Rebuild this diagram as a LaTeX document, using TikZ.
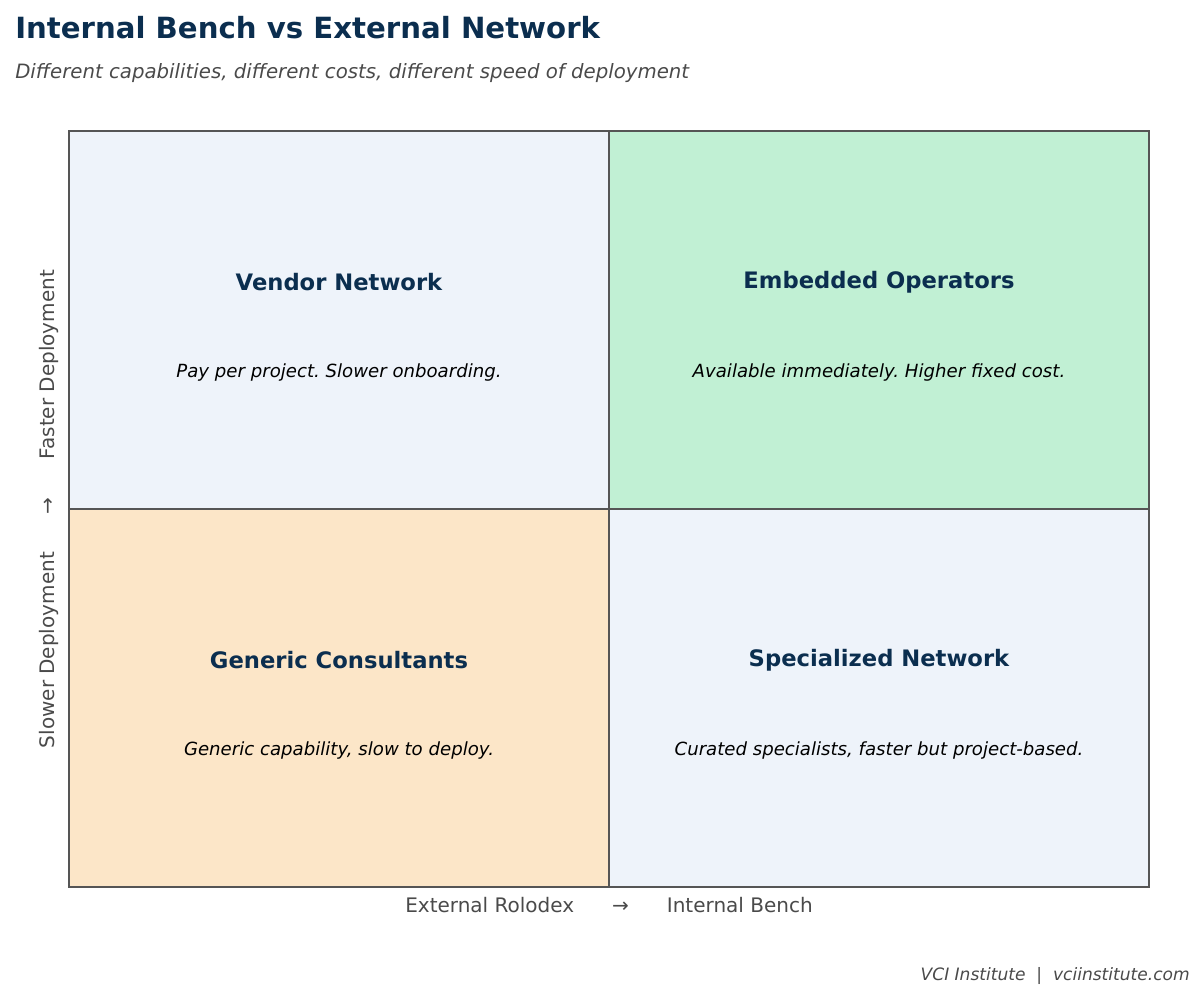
\documentclass[tikz,border=0pt]{standalone}
\usepackage{fontspec}
\setmainfont{DejaVu Sans}
\frenchspacing
\begin{document}
\begin{tikzpicture}[x=0.75pt,y=-0.75pt,
  quad/.style={draw=edge,line width=1.2pt},
  qt/.style={font=\fontsize{17}{20}\selectfont\bfseries,text=titlec},
  qd/.style={font=\fontsize{13.6}{16}\selectfont\itshape,text=black},
  ax/.style={font=\fontsize{15}{18}\selectfont,text=grayt}]
\definecolor{edge}{HTML}{555555}
\definecolor{titlec}{HTML}{0B2E4F}
\definecolor{grayt}{HTML}{4A4A4A}
\definecolor{lb}{HTML}{EEF3FA}
\definecolor{gr}{HTML}{C1F0D4}
\definecolor{og}{HTML}{FCE6C8}
\useasboundingbox (0,0) rectangle (1204,1001);
\fill[lb] (69,131) rectangle (609,509);
\fill[gr] (609,131) rectangle (1149,509);
\fill[og] (69,509) rectangle (609,887);
\fill[lb] (609,509) rectangle (1149,887);
\draw[quad] (69,131) rectangle (1149,887);
\draw[quad] (609,131) -- (609,887);
\draw[quad] (69,509) -- (1149,509);
\node[anchor=west,inner sep=0pt,font=\fontsize{21.9}{26}\selectfont\bfseries,text=titlec] (t) at (15,28) {Internal Bench vs External Network};
\node[anchor=west,inner sep=0pt,font=\fontsize{14.8}{18}\selectfont\itshape,text=grayt] (s) at (15,73) {Different capabilities, different costs, different speed of deployment};
\node[qt] (a1) at (339,282) {Vendor Network};
\node[qd] (a2) at (339,372) {Pay per project. Slower onboarding.};
\node[qt] (b1) at (879,282) {Embedded Operators};
\node[qd] (b2) at (879,372) {Available immediately. Higher fixed cost.};
\node[qt] (c1) at (339,660) {Generic Consultants};
\node[qd] (c2) at (339,750) {Generic capability, slow to deploy.};
\node[qt] (d1) at (879,660) {Specialized Network};
\node[qd] (d2) at (879,750) {Curated specialists, faster but project-based.};
\node[ax] (xl) at (609,905) {External Rolodex\hspace{1.9em}→\hspace{1.9em}Internal Bench};
\node[ax,rotate=90] (yl) at (49,509) {Slower Deployment\hspace{1.9em}→\hspace{1.9em}Faster Deployment};
\node[anchor=east,inner sep=0pt,font=\fontsize{12.8}{15}\selectfont\itshape,text=grayt] (f) at (1190,976) {VCI Institute \ | \ vciinstitute.com};
\end{tikzpicture}
\end{document}
